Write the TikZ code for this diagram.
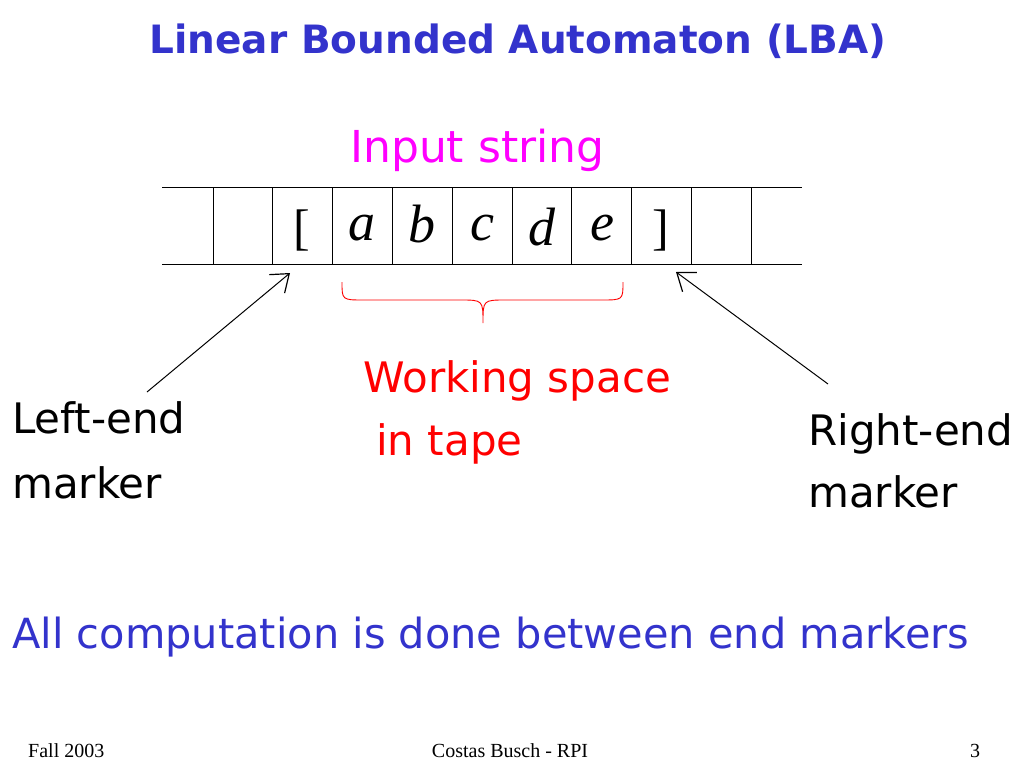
\documentclass[tikz,border=0pt]{standalone}
\usepackage{fontspec}
\setmainfont{DejaVu Sans}
\newfontfamily\tapefont{Liberation Serif}
\usetikzlibrary{arrows.meta}
\definecolor{titleblue}{RGB}{51,51,204}
\definecolor{inputpink}{RGB}{255,0,255}
\definecolor{workred}{RGB}{255,0,0}
\begin{document}
\begin{tikzpicture}[x=1pt,y=-1pt,
	txt/.style={inner sep=0pt,anchor=base west,font=\fontsize{42}{50}\selectfont},
	sym/.style={inner sep=0pt,anchor=base,font=\tapefont\itshape\fontsize{54}{54}\selectfont},
	brk/.style={inner sep=0pt,anchor=base,font=\tapefont\fontsize{50}{50}\selectfont},
	foot/.style={inner sep=0pt,anchor=base,font=\tapefont\fontsize{20}{24}\selectfont},
	endarrow/.style={-{Straight Barb[length=16pt,width=24pt,line width=1.2pt]},line width=1pt}]
	\useasboundingbox (0,0) rectangle (1024,768);
	\node[anchor=base,inner sep=0pt,font=\bfseries\fontsize{39}{46}\selectfont,color=titleblue] (title) at (518,53) {Linear Bounded Automaton (LBA)};
	\node[txt,font=\fontsize{44}{50}\selectfont,color=inputpink] (input) at (350,162) {Input string};
	% the tape
	\draw[line width=1pt] (162,187) -- (802,187);
	\draw[line width=1pt] (162,264) -- (802,264);
	\foreach \i in {0,...,9}
		\draw[line width=1pt] ({213+59.8*\i},187) -- ++(0,77);
	\node[brk] (lb) at (302,244) {[};
	\node[sym] (a) at (362,240) {a};
	\node[sym] (b) at (422,242) {b};
	\node[sym] (c) at (482,240) {c};
	\node[sym] (d) at (542,245) {d};
	\node[sym] (e) at (602,240) {e};
	\node[brk] (rb) at (661,244) {]};
	% working space brace
	\draw[workred,line width=0.9pt] (342,282) .. controls (342,300) .. (364,300) -- (460,300)
		.. controls (483,300) .. (483,323) .. controls (483,300) .. (506,300) -- (601,300)
		.. controls (623,300) .. (623,282);
	\node[txt,color=workred] (work) at (363,392) {Working space};
	\node[txt,color=workred] (worktape) at (376,455) {in tape};
	% end markers
	\node[txt] (lefttxt) at (12,433) {Left-end};
	\node[txt] (leftmk) at (12,498) {marker};
	\node[txt] (righttxt) at (808,445) {Right-end};
	\node[txt] (rightmk) at (808,507) {marker};
	\coordinate (lfrom) at (147,392);
	\coordinate (lto) at (290,273);
	\coordinate (rfrom) at (828,384);
	\coordinate (rto) at (676,272);
	\draw[endarrow] (lfrom) -- (lto);
	\draw[endarrow] (rfrom) -- (rto);
	\node[txt,font=\fontsize{41.5}{50}\selectfont,color=titleblue] (allcomp) at (12,648) {All computation is done between end markers};
	% footer
	\node[foot,anchor=base west] (fall) at (28,757) {Fall 2003};
	\node[foot] (author) at (510,757) {Costas Busch - RPI};
	\node[foot] (pagenum) at (975,757) {3};
\end{tikzpicture}
\end{document}
